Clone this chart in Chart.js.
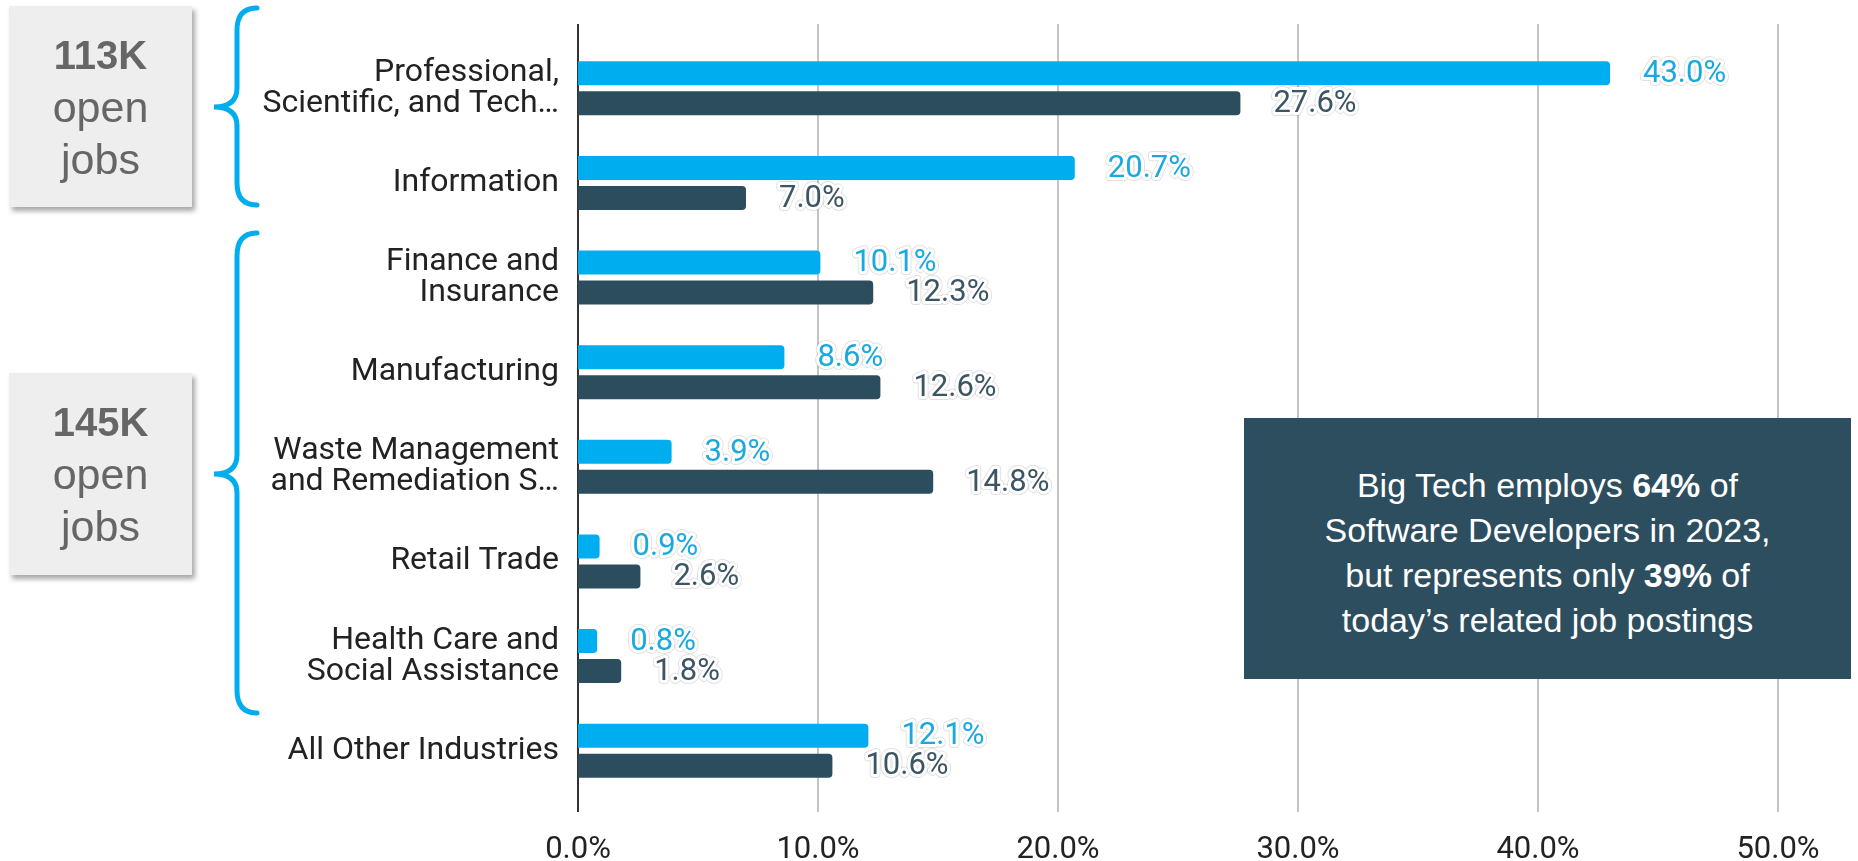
<!DOCTYPE html>
<html>
<head>
    <title>Software Developers by Industry</title>
    <script src="https://cdn.jsdelivr.net/npm/chart.js@4.4.0/dist/chart.umd.min.js"></script>
    <style>
        body {
            margin: 0;
            background: #ffffff;
            overflow: hidden;
        }
        #wrap {
            position: relative;
            width: 1858px;
            height: 861px;
        }
        #chart {
            position: absolute;
            left: 0;
            top: 0;
        }
        .jobs-box {
            position: absolute;
            left: 9px;
            width: 183px;
            background: #eeeeee;
            box-shadow: 3px 4px 5px rgba(0, 0, 0, 0.35);
            display: flex;
            flex-direction: column;
            justify-content: center;
            align-items: center;
            font-family: "Liberation Sans", Arial, sans-serif;
            color: #666666;
            line-height: 52px;
        }
        .jobs-box b {
            font-size: 40px;
        }
        .jobs-box span {
            font-size: 43px;
        }
        #note {
            position: absolute;
            left: 1244px;
            top: 418px;
            width: 607px;
            height: 261px;
            background: #2d4e5f;
            color: #ffffff;
            font-family: "Liberation Sans", Arial, sans-serif;
            font-size: 34px;
            line-height: 45px;
            display: flex;
            align-items: center;
            justify-content: center;
            text-align: center;
        }
        #note div {
            margin-top: 8px;
        }
        #braces {
            position: absolute;
            left: 0;
            top: 0;
            pointer-events: none;
        }
    </style>
</head>
<body>
<div id="wrap">
    <canvas id="chart" width="1858" height="861"></canvas>

    <div class="jobs-box" style="top: 6px; height: 201px;">
        <b>113K</b><span>open</span><span>jobs</span>
    </div>
    <div class="jobs-box" style="top: 373px; height: 202px;">
        <b>145K</b><span>open</span><span>jobs</span>
    </div>

    <svg id="braces" width="1858" height="861">
        <g fill="none" stroke="#00aeef" stroke-width="5" stroke-linecap="round">
            <path d="M257 8 Q237 8 237 30 L237 88 Q237 107 214 107 Q237 107 237 126 L237 183 Q237 205 257 205" />
            <path d="M257 233 Q237 233 237 256 L237 455 Q237 474 214 474 Q237 474 237 493 L237 690 Q237 713 257 713" />
        </g>
    </svg>

    <div id="note">
        <div>Big Tech employs <b>64%</b> of<br>Software Developers in 2023,<br>but represents only <b>39%</b> of<br>today’s related job postings</div>
    </div>
</div>

<script>
    const categories = [
        ['Professional,', 'Scientific, and Tech…'],
        'Information',
        ['Finance and', 'Insurance'],
        'Manufacturing',
        ['Waste Management', 'and Remediation S…'],
        'Retail Trade',
        ['Health Care and', 'Social Assistance'],
        'All Other Industries'
    ];
    // share of software developers employed, 2023
    const employmentShare = [43.0, 20.7, 10.1, 8.6, 3.9, 0.9, 0.8, 12.1];
    // share of related job postings today
    const postingShare = [27.6, 7.0, 12.3, 12.6, 14.8, 2.6, 1.8, 10.6];
    const xTicks = [0, 10, 20, 30, 40, 50];

    const cyan = '#00aeef';
    const slate = '#2c4d5e';

    // vertical grid lines and the axis line run a bit past the plot area
    const gridPlugin = {
        id: 'longGrid',
        beforeDatasetsDraw(chart) {
            const ctx = chart.ctx;
            const xs = chart.scales.x;
            const top = 24, bottom = 812;
            ctx.save();
            ctx.lineWidth = 2;
            ctx.strokeStyle = '#c4c4c4';
            xTicks.forEach(v => {
                if (v === 0) return;
                const px = Math.round(xs.getPixelForValue(v));
                ctx.beginPath();
                ctx.moveTo(px, top);
                ctx.lineTo(px, bottom);
                ctx.stroke();
            });
            ctx.strokeStyle = '#333333';
            const x0 = Math.round(xs.getPixelForValue(0));
            ctx.beginPath();
            ctx.moveTo(x0, top);
            ctx.lineTo(x0, bottom);
            ctx.stroke();
            ctx.restore();
        }
    };

    // value labels with a white halo, placed after the bar end
    const valueLabels = {
        id: 'valueLabels',
        afterDatasetsDraw(chart) {
            const ctx = chart.ctx;
            ctx.save();
            ctx.font = '31px Roboto';
            ctx.textAlign = 'left';
            ctx.textBaseline = 'middle';
            ctx.lineJoin = 'round';
            chart.data.datasets.forEach((ds, di) => {
                const meta = chart.getDatasetMeta(di);
                meta.data.forEach((bar, i) => {
                    const text = ds.data[i].toFixed(1) + '%';
                    const x = bar.x + 33;
                    const y = bar.y + 1;
                    ctx.strokeStyle = 'rgba(0,0,0,0.12)';
                    ctx.lineWidth = 8;
                    ctx.strokeText(text, x, y);
                    ctx.strokeStyle = '#ffffff';
                    ctx.lineWidth = 6;
                    ctx.strokeText(text, x, y);
                    ctx.fillStyle = ds.labelColor;
                    ctx.fillText(text, x, y);
                });
            });
            ctx.restore();
        }
    };

    new Chart(document.getElementById('chart'), {
        type: 'bar',
        data: {
            labels: categories,
            datasets: [
                {
                    label: 'Employment 2023',
                    data: employmentShare,
                    backgroundColor: cyan,
                    labelColor: '#19a9e0',
                    borderRadius: 4,
                    categoryPercentage: 0.634,
                    barPercentage: 0.8
                },
                {
                    label: 'Job postings',
                    data: postingShare,
                    backgroundColor: slate,
                    labelColor: '#3b5564',
                    borderRadius: 4,
                    categoryPercentage: 0.634,
                    barPercentage: 0.8
                }
            ]
        },
        options: {
            indexAxis: 'y',
            responsive: false,
            animation: false,
            layout: {
                padding: { top: 41, right: 80, left: 0, bottom: 0 }
            },
            plugins: {
                legend: { display: false },
                tooltip: { enabled: false }
            },
            scales: {
                x: {
                    min: 0,
                    max: 50,
                    afterFit(scale) { scale.height = 63; },
                    afterBuildTicks(scale) { scale.ticks = xTicks.map(v => ({ value: v })); },
                    grid: { display: false },
                    border: { display: false },
                    ticks: {
                        padding: 26,
                        color: '#222222',
                        font: { family: 'Roboto', size: 31 },
                        callback: v => v.toFixed(1) + '%'
                    }
                },
                y: {
                    afterFit(scale) { scale.width = 578; },
                    grid: { display: false },
                    border: { display: false },
                    ticks: {
                        padding: 11,
                        color: '#222222',
                        font: { family: 'Roboto', size: 32, lineHeight: 0.97 }
                    }
                }
            }
        },
        plugins: [gridPlugin, valueLabels]
    });
</script>
</body>
</html>
